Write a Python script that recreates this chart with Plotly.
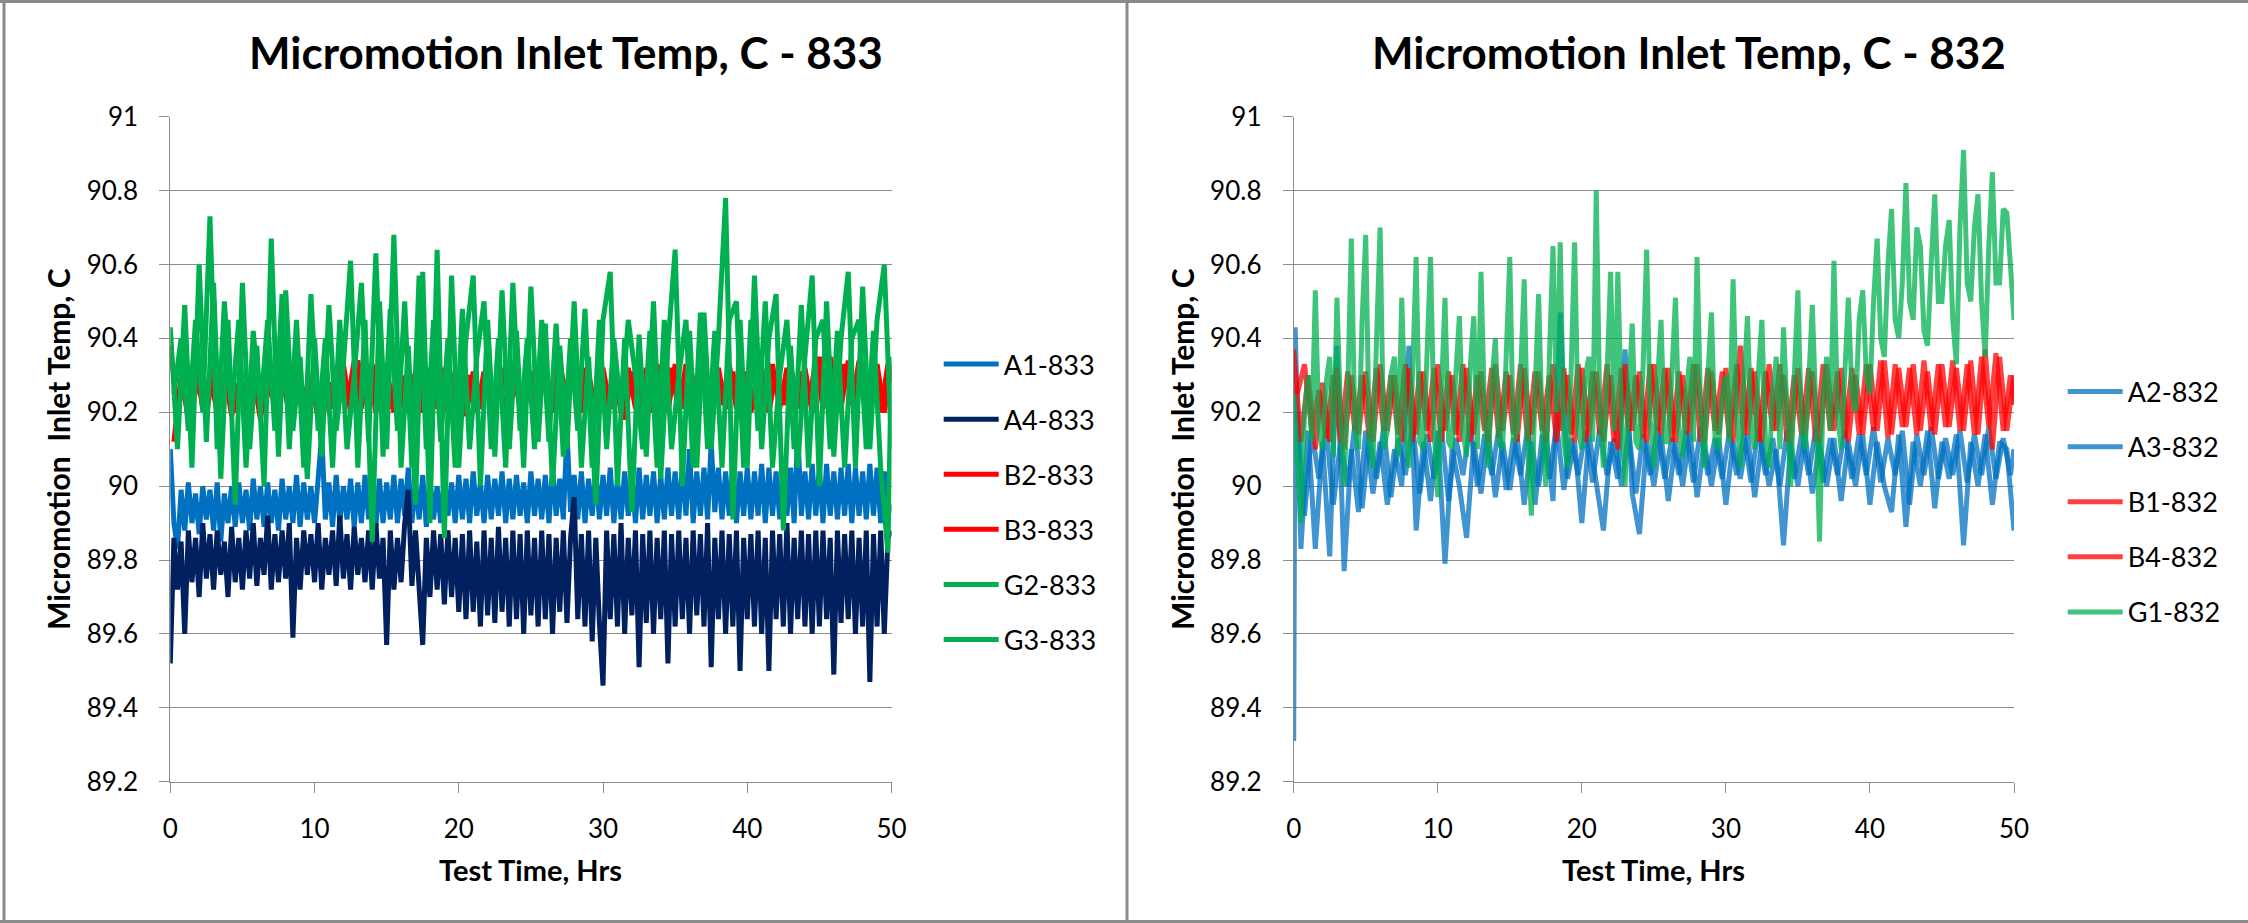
import plotly.graph_objects as go

W, H = 2248, 923

# sampling grids (hours)
time_hrs = [i * 0.5 for i in range(101)]                 # 0, 0.5, ... 50
time_q = [i * 0.5 + 0.25 for i in range(100)] + [50.0]   # 0.25, 0.75, ... 49.75, 50
time_fine = [i * 0.25 for i in range(201)]               # 0, 0.25, ... 50
time_a2_832 = [0.0, 0.1] + time_hrs[1:]

# ---------------- 833 ----------------
a1_833 = [90.10, 89.90, 89.83, 89.99, 89.88, 90.01, 89.90, 89.98, 89.87, 90.00, 89.91, 89.99, 89.88, 90.01, 89.85, 89.98, 89.90, 90.00, 89.89, 90.01,
          89.90, 89.99, 89.88, 90.02, 89.91, 90.00, 89.89, 90.01, 89.90, 89.99, 89.88, 90.02, 89.91, 90.00, 89.90, 90.03, 89.89, 90.01, 89.91, 90.00,
          89.90, 90.02, 90.14, 89.91, 90.01, 89.89, 90.03, 89.90, 90.00, 89.91, 90.02, 89.89, 90.01, 89.90, 90.03, 89.91, 90.00, 89.89, 90.02, 89.90,
          90.01, 89.91, 90.03, 89.90, 90.02, 89.92, 90.05, 89.90, 90.01, 89.91, 90.03, 89.89, 90.02, 89.91, 90.00, 89.90, 90.03, 89.92, 90.01, 89.90,
          90.03, 89.91, 90.02, 89.90, 90.04, 89.92, 90.01, 89.90, 90.03, 89.91, 90.02, 89.92, 90.04, 89.90, 90.02, 89.91, 90.03, 89.92, 90.01, 89.90,
          90.04, 89.92, 90.02, 89.91, 90.03, 89.90, 90.05, 89.92, 90.02, 89.91, 90.15, 89.93, 90.03, 89.91, 90.04, 89.90, 90.02, 89.92, 90.04, 89.91,
          90.03, 89.92, 90.05, 89.90, 90.02, 89.91, 90.04, 89.92, 90.03, 89.90, 90.05, 89.91, 90.03, 89.92, 90.04, 89.90, 90.03, 89.91, 90.05, 89.92,
          90.04, 89.91, 90.06, 89.92, 90.10, 89.90, 90.04, 89.92, 90.05, 89.91, 90.12, 89.93, 90.05, 89.91, 90.04, 89.92, 90.06, 89.90, 90.04, 89.92,
          90.05, 89.91, 90.04, 89.92, 90.06, 89.90, 90.05, 89.92, 90.04, 89.91, 90.06, 89.92, 90.05, 89.90, 90.15, 89.92, 90.04, 89.91, 90.06, 89.92,
          90.05, 89.90, 90.06, 89.92, 90.04, 89.91, 90.05, 89.92, 90.06, 89.90, 90.05, 89.92, 90.04, 89.91, 90.06, 89.92, 90.05, 89.90, 90.04, 89.92,
          89.95]
a4_833 = [89.52, 89.86, 89.72, 89.85, 89.60, 89.88, 89.74, 89.86, 89.70, 89.90, 89.75, 89.87, 89.72, 89.88, 89.76, 89.85, 89.70, 89.89, 89.74, 89.86,
          89.72, 89.88, 89.75, 89.90, 89.73, 89.86, 89.76, 89.92, 89.72, 89.87, 89.74, 89.88, 89.75, 89.90, 89.59, 89.86, 89.72, 89.88, 89.76, 89.87,
          89.74, 89.90, 89.72, 89.86, 89.76, 89.88, 89.73, 89.92, 89.75, 89.87, 89.72, 89.89, 89.76, 89.86, 89.74, 89.88, 89.72, 89.90, 89.75, 89.86,
          89.57, 89.88, 89.72, 89.86, 89.74, 89.90, 89.99, 89.73, 89.88, 89.72, 89.57, 89.86, 89.70, 89.88, 89.72, 89.87, 89.68, 89.88, 89.70, 89.86,
          89.66, 89.87, 89.64, 89.88, 89.66, 89.85, 89.62, 89.88, 89.65, 89.86, 89.63, 89.89, 89.66, 89.86, 89.62, 89.88, 89.64, 89.87, 89.60, 89.88,
          89.65, 89.86, 89.62, 89.88, 89.64, 89.87, 89.60, 89.86, 89.66, 89.88, 89.63, 89.86, 89.97, 89.64, 89.87, 89.62, 89.88, 89.58, 89.86, 89.63,
          89.46, 89.88, 89.64, 89.87, 89.62, 89.90, 89.60, 89.86, 89.65, 89.88, 89.51, 89.87, 89.63, 89.88, 89.60, 89.86, 89.64, 89.88, 89.52, 89.87,
          89.62, 89.88, 89.64, 89.86, 89.60, 89.88, 89.65, 89.87, 89.62, 89.90, 89.51, 89.86, 89.64, 89.88, 89.60, 89.87, 89.62, 89.88, 89.50, 89.86,
          89.64, 89.87, 89.62, 89.88, 89.60, 89.86, 89.50, 89.88, 89.64, 89.87, 89.62, 89.90, 89.60, 89.86, 89.64, 89.88, 89.62, 89.87, 89.60, 89.88,
          89.62, 89.88, 89.64, 89.86, 89.49, 89.88, 89.63, 89.87, 89.64, 89.88, 89.60, 89.86, 89.62, 89.88, 89.47, 89.87, 89.62, 89.88, 89.60, 89.86,
          89.88]
b2_833 = [90.38, 90.20, 90.31, 90.22, 90.29, 90.19, 90.32, 90.21, 90.30, 90.20,
          90.28, 90.17, 90.32, 90.20, 90.30, 90.22, 90.31, 90.19, 90.29, 90.21,
          90.30, 90.17, 90.28, 90.22, 90.33, 90.20, 90.34, 90.23, 90.33, 90.21,
          90.32, 90.20, 90.30, 90.22, 90.31, 90.20, 90.30, 90.21, 90.32, 90.20,
          90.30, 90.19, 90.31, 90.21, 90.29, 90.20, 90.32, 90.22, 90.30, 90.19,
          90.31, 90.21, 90.33, 90.20, 90.34, 90.22, 90.33, 90.20, 90.31, 90.19,
          90.32, 90.21, 90.30, 90.18, 90.31, 90.20, 90.32, 90.21, 90.30, 90.20,
          90.33, 90.21, 90.34, 90.22, 90.33, 90.20, 90.32, 90.21, 90.31, 90.20,
          90.30, 90.21, 90.32, 90.20, 90.31, 90.22, 90.33, 90.21, 90.32, 90.20,
          90.35, 90.22, 90.33, 90.21, 90.34, 90.20, 90.32, 90.21, 90.33, 90.20,
          90.33]
b3_833 = [90.12, 90.30, 90.18, 90.33, 90.21, 90.30, 90.20, 90.31, 90.19, 90.28,
          90.20, 90.30, 90.18, 90.31, 90.21, 90.29, 90.20, 90.32, 90.22, 90.30,
          90.18, 90.31, 90.21, 90.33, 90.22, 90.34, 90.21, 90.33, 90.20, 90.32,
          90.21, 90.31, 90.20, 90.30, 90.22, 90.32, 90.21, 90.30, 90.20, 90.31,
          90.21, 90.30, 90.20, 90.31, 90.22, 90.30, 90.19, 90.32, 90.21, 90.31,
          90.20, 90.32, 90.21, 90.34, 90.20, 90.33, 90.22, 90.32, 90.20, 90.30,
          90.21, 90.31, 90.20, 90.32, 90.21, 90.30, 90.20, 90.33, 90.21, 90.32,
          90.20, 90.33, 90.21, 90.34, 90.20, 90.32, 90.22, 90.33, 90.21, 90.31,
          90.20, 90.31, 90.22, 90.33, 90.21, 90.32, 90.20, 90.31, 90.22, 90.34,
          90.21, 90.35, 90.20, 90.33, 90.22, 90.34, 90.21, 90.32, 90.20, 90.33,
          90.28]
g2_833 = [90.43, 90.10, 90.49, 90.05, 90.60, 90.12, 90.55, 90.02, 90.45, 89.95,
          90.55, 90.10, 90.38, 90.00, 90.67, 90.08, 90.53, 90.15, 90.35, 90.02,
          90.40, 90.08, 90.49, 90.15, 90.33, 90.61, 90.05, 90.45, 89.85, 90.50,
          90.10, 90.68, 90.05, 90.38, 89.95, 90.58, 89.90, 90.64, 89.86, 90.57,
          90.05, 90.40, 90.57, 90.00, 90.45, 90.08, 90.53, 90.10, 90.42, 90.05,
          90.54, 90.12, 90.44, 90.00, 90.38, 90.10, 90.50, 90.05, 90.35, 89.95,
          90.45, 90.58, 90.00, 90.40, 89.93, 90.41, 90.08, 90.50, 90.02, 90.38,
          90.64, 90.00, 90.42, 90.05, 90.47, 90.10, 90.40, 90.78, 89.91, 90.45,
          90.05, 90.57, 90.10, 90.40, 90.52, 89.88, 90.38, 90.05, 90.35, 90.57,
          90.00, 90.50, 90.08, 90.40, 90.58, 90.05, 90.54, 90.10, 90.45, 90.60,
          90.10]
g3_833 = [90.25, 90.40, 90.15, 90.45, 90.20, 90.73, 90.10, 90.50, 90.20, 90.45,
          90.05, 90.42, 90.20, 90.45, 90.15, 90.52, 90.10, 90.45, 90.05, 90.52,
          90.15, 90.40, 90.05, 90.45, 90.10, 90.30, 90.55, 90.12, 90.63, 90.08,
          90.48, 90.15, 90.50, 90.05, 90.57, 90.10, 90.45, 90.12, 90.40, 90.05,
          90.48, 90.10, 90.35, 90.50, 90.10, 90.40, 90.05, 90.55, 90.15, 90.40,
          90.10, 90.45, 90.12, 90.44, 90.08, 90.40, 90.15, 90.48, 90.05, 90.45,
          90.10, 90.40, 90.20, 90.45, 90.30, 90.10, 90.42, 90.05, 90.45, 90.10,
          90.30, 90.45, 90.05, 90.47, 90.10, 90.42, 90.05, 90.45, 90.50, 90.05,
          90.45, 90.15, 90.50, 90.05, 90.30, 90.45, 90.10, 90.49, 90.05, 90.40,
          90.45, 90.10, 90.42, 90.05, 90.40, 90.45, 90.10, 90.42, 90.05, 89.82,
          90.35]

# ---------------- 832 ----------------
a2_832 = [89.31, 90.43, 89.83, 90.15, 89.83, 90.12, 89.81, 90.38, 89.77, 90.10,
          89.93, 90.15, 89.98, 90.12, 89.95, 90.10, 90.00, 90.38, 89.88, 90.12,
          89.96, 90.15, 89.79, 90.10, 90.00, 89.86, 90.12, 89.98, 90.15, 89.97,
          90.12, 89.99, 90.14, 89.95, 90.12, 90.00, 90.15, 89.96, 90.47, 90.02,
          90.12, 89.90, 90.14, 90.00, 89.88, 90.12, 90.02, 90.37, 89.98, 89.87,
          90.12, 90.00, 90.14, 89.96, 90.12, 90.00, 90.15, 89.97, 90.12, 90.00,
          90.13, 89.95, 90.12, 90.02, 90.14, 89.97, 90.12, 90.00, 90.10, 89.84,
          90.12, 90.00, 90.14, 89.98, 90.12, 90.00, 90.13, 89.96, 90.12, 90.00,
          90.14, 89.95, 90.12, 90.00, 89.93, 90.14, 89.89, 90.12, 90.00, 90.15,
          89.94, 90.12, 90.02, 90.14, 89.84, 90.12, 90.00, 90.14, 89.95, 90.12,
          90.10, 89.88]
a3_832 = [90.20, 89.92, 90.15, 90.02, 90.16, 89.95, 90.12, 90.00, 90.17, 89.94,
          90.14, 90.02, 90.16, 89.97, 90.13, 90.03, 90.17, 89.98, 90.14, 90.02,
          90.16, 89.96, 90.13, 90.03, 90.17, 90.00, 90.14, 90.03, 90.16, 89.99,
          90.13, 90.03, 90.16, 89.95, 90.14, 90.02, 90.17, 89.99, 90.13, 90.03,
          90.15, 90.01, 90.16, 90.03, 90.13, 90.00, 90.15, 89.98, 90.14, 90.03,
          90.16, 90.02, 90.13, 90.03, 90.15, 90.01, 90.16, 90.03, 90.13, 90.02,
          90.15, 90.03, 90.14, 90.01, 90.16, 90.03, 90.13, 90.00, 90.15, 90.02,
          90.14, 90.03, 90.16, 90.01, 90.13, 90.03, 90.15, 90.02, 90.14, 90.03,
          90.16, 90.01, 90.13, 90.03, 90.15, 89.95, 90.14, 90.03, 90.16, 90.02,
          90.13, 90.03, 90.15, 90.01, 90.14, 90.03, 90.16, 90.02, 90.13, 90.03,
          90.10]
b1_832 = [90.37, 90.12, 90.30, 90.10, 90.28, 90.12, 90.32, 90.10, 90.30, 90.14,
          90.31, 90.12, 90.33, 90.15, 90.30, 90.12, 90.32, 90.14, 90.31, 90.12,
          90.33, 90.15, 90.30, 90.12, 90.32, 90.14, 90.31, 90.12, 90.33, 90.15,
          90.30, 90.12, 90.32, 90.14, 90.31, 90.12, 90.33, 90.15, 90.30, 90.12,
          90.32, 90.14, 90.31, 90.12, 90.30, 90.10, 90.33, 90.15, 90.31, 90.12,
          90.33, 90.14, 90.32, 90.12, 90.30, 90.15, 90.33, 90.12, 90.31, 90.14,
          90.32, 90.12, 90.38, 90.14, 90.31, 90.12, 90.33, 90.15, 90.30, 90.12,
          90.32, 90.14, 90.31, 90.12, 90.33, 90.15, 90.32, 90.12, 90.30, 90.14,
          90.33, 90.15, 90.34, 90.14, 90.32, 90.16, 90.33, 90.15, 90.31, 90.14,
          90.33, 90.16, 90.32, 90.15, 90.34, 90.14, 90.37, 90.10, 90.35, 90.15,
          90.30]
b4_832 = [90.25, 90.33, 90.15, 90.26, 90.13, 90.30, 90.12, 90.31, 90.15, 90.30,
          90.13, 90.32, 90.15, 90.30, 90.14, 90.33, 90.12, 90.31, 90.15, 90.32,
          90.12, 90.31, 90.14, 90.33, 90.12, 90.30, 90.15, 90.32, 90.13, 90.31,
          90.14, 90.33, 90.12, 90.31, 90.15, 90.30, 90.12, 90.32, 90.14, 90.33,
          90.12, 90.31, 90.14, 90.33, 90.12, 90.32, 90.15, 90.30, 90.13, 90.33,
          90.15, 90.32, 90.12, 90.31, 90.14, 90.33, 90.12, 90.32, 90.15, 90.31,
          90.13, 90.33, 90.14, 90.32, 90.12, 90.31, 90.15, 90.33, 90.12, 90.30,
          90.14, 90.32, 90.12, 90.33, 90.15, 90.31, 90.13, 90.32, 90.14, 90.33,
          90.15, 90.34, 90.13, 90.33, 90.16, 90.32, 90.14, 90.34, 90.15, 90.33,
          90.16, 90.34, 90.15, 90.33, 90.14, 90.35, 90.16, 90.36, 90.15, 90.30,
          90.22]
g1_832 = [90.25, 90.10, 89.90, 90.20, 90.30, 90.12, 90.53, 90.15, 90.10, 90.28, 90.35, 90.08, 90.51, 90.20, 90.00, 90.25, 90.67, 90.15, 90.10, 90.45,
          90.68, 90.12, 90.05, 90.40, 90.70, 90.10, 90.15, 90.30, 90.35, 90.08, 90.51, 90.18, 90.05, 90.30, 90.62, 90.12, 90.10, 90.35, 90.62, 90.15,
          89.97, 90.25, 90.51, 90.12, 90.10, 90.30, 90.46, 90.15, 90.08, 90.32, 90.46, 90.10, 90.58, 90.20, 90.05, 90.28, 90.40, 90.12, 90.10, 90.35,
          90.62, 90.12, 90.15, 90.30, 90.56, 90.10, 89.92, 90.25, 90.52, 90.15, 90.00, 90.35, 90.65, 90.20, 90.66, 90.12, 90.05, 90.30, 90.66, 90.15,
          90.10, 90.30, 90.35, 90.12, 90.80, 90.20, 90.05, 90.30, 90.58, 90.15, 90.58, 90.20, 90.00, 90.25, 90.44, 90.12, 90.10, 90.32, 90.64, 90.18,
          90.05, 90.28, 90.45, 90.12, 90.12, 90.30, 90.51, 90.15, 90.08, 90.25, 90.35, 90.12, 90.62, 90.20, 90.05, 90.30, 90.47, 90.12, 90.10, 90.25,
          90.30, 90.12, 90.56, 90.20, 90.05, 90.28, 90.46, 90.15, 90.10, 90.30, 90.45, 90.12, 90.05, 90.25, 90.35, 90.10, 90.43, 90.20, 90.00, 90.30,
          90.53, 90.15, 90.10, 90.28, 90.49, 90.20, 89.85, 90.25, 90.35, 90.15, 90.61, 90.20, 90.10, 90.30, 90.51, 90.25, 90.20, 90.45, 90.53, 90.30,
          90.25, 90.50, 90.67, 90.40, 90.35, 90.60, 90.75, 90.45, 90.40, 90.55, 90.82, 90.50, 90.45, 90.70, 90.65, 90.42, 90.38, 90.60, 90.79, 90.50,
          90.50, 90.65, 90.72, 90.45, 90.33, 90.70, 90.91, 90.55, 90.50, 90.70, 90.79, 90.50, 90.35, 90.65, 90.85, 90.55, 90.55, 90.75, 90.74, 90.60,
          90.45]

x_tick_vals = [0, 10, 20, 30, 40, 50]
x_tick_text = ["0", "10", "20", "30", "40", "50"]
y_tick_vals = [89.2, 89.4, 89.6, 89.8, 90.0, 90.2, 90.4, 90.6, 90.8, 91.0]
y_tick_text = ["89.2", "89.4", "89.6", "89.8", "90", "90.2", "90.4", "90.6", "90.8", "91"]

titles = ["Micromotion Inlet Temp, C - 833", "Micromotion Inlet Temp, C - 832"]
x_title = "Test Time, Hrs"
y_title = "Micromotion  Inlet Temp, C"

left_series = [
    ("A1-833", time_fine, a1_833, "#0070C0"),
    ("A4-833", time_fine, a4_833, "#002060"),
    ("B2-833", time_hrs, b2_833, "#FF0000"),
    ("B3-833", time_q, b3_833, "#FF0000"),
    ("G2-833", time_hrs, g2_833, "#00B050"),
    ("G3-833", time_q, g3_833, "#00B050"),
]
right_series = [
    ("A2-832", time_a2_832, a2_832, "rgba(0,112,192,0.75)"),
    ("A3-832", time_q, a3_832, "rgba(0,112,192,0.75)"),
    ("B1-832", time_hrs, b1_832, "rgba(255,0,0,0.75)"),
    ("B4-832", time_q, b4_832, "rgba(255,0,0,0.75)"),
    ("G1-832", time_fine, g1_832, "rgba(0,176,80,0.75)"),
]

FONT = "Lato"
LW = 5

fig = go.Figure()
for name, xs, ys, col in left_series:
    fig.add_trace(go.Scatter(x=xs, y=ys, name=name, mode="lines",
                             line=dict(color=col, width=LW),
                             xaxis="x", yaxis="y", legend="legend",
                             legendgroup=name, showlegend=True))
for name, xs, ys, col in right_series:
    fig.add_trace(go.Scatter(x=xs, y=ys, name=name, mode="lines",
                             line=dict(color=col, width=LW),
                             xaxis="x2", yaxis="y2", legend="legend2",
                             legendgroup=name, showlegend=True))


def px_x(p):
    return p / W


def px_y(p):
    return 1 - p / H


ydom = [px_y(781.7), px_y(116.7)]
grid = "#8c8c8c"

xcommon = dict(range=[0, 50], tickvals=x_tick_vals, ticktext=x_tick_text,
               ticks="outside", ticklen=10, tickcolor=grid, tickwidth=1,
               showline=True, linecolor=grid, linewidth=1, showgrid=False,
               zeroline=False, tickfont=dict(family=FONT, size=26, color="black"),
               ticklabelstandoff=14, automargin=False)
ycommon = dict(range=[89.2, 91.0], tickvals=y_tick_vals, ticktext=y_tick_text,
               ticks="outside", ticklen=10, tickcolor=grid, tickwidth=1,
               showline=True, linecolor=grid, linewidth=1, showgrid=True,
               gridcolor=grid, gridwidth=1, zeroline=False,
               tickfont=dict(family=FONT, size=26, color="black"),
               ticklabelstandoff=16, domain=ydom, automargin=False)

legcommon = dict(xanchor="left", yanchor="middle", y=px_y(502),
                 font=dict(family=FONT, size=27, color="black"),
                 itemwidth=55, tracegroupgap=17, bgcolor="rgba(0,0,0,0)",
                 traceorder="grouped", borderwidth=0)

fig.update_layout(
    width=W, height=H,
    margin=dict(l=0, r=0, t=0, b=0, pad=0, autoexpand=False),
    paper_bgcolor="white", plot_bgcolor="white",
    showlegend=True,
    xaxis=dict(domain=[px_x(170.3), px_x(891.5)], anchor="y", **xcommon),
    yaxis=dict(anchor="x", **ycommon),
    xaxis2=dict(domain=[px_x(1293.7), px_x(2014.0)], anchor="y2", **xcommon),
    yaxis2=dict(anchor="x2", **ycommon),
    legend=dict(x=px_x(938.7), **legcommon),
    legend2=dict(x=px_x(2062.7), **legcommon),
)

annotations = []
for cx, t in [(566.5, titles[0]), (1689.0, titles[1])]:
    annotations.append(dict(x=px_x(cx), y=px_y(52), xref="paper", yref="paper",
                            text=t, showarrow=False, xanchor="center", yanchor="middle",
                            font=dict(family=FONT, size=44, color="black", weight="bold")))
for cx in [530.9, 1653.9]:
    annotations.append(dict(x=px_x(cx), y=px_y(869), xref="paper", yref="paper",
                            text=x_title, showarrow=False, xanchor="center", yanchor="middle",
                            font=dict(family=FONT, size=29, color="black", weight="bold")))
for cx in [58.0, 1182.0]:
    annotations.append(dict(x=px_x(cx), y=px_y(449), xref="paper", yref="paper",
                            text=y_title, showarrow=False, textangle=-90,
                            xanchor="center", yanchor="middle",
                            font=dict(family=FONT, size=30, color="black", weight="bold")))
fig.update_layout(annotations=annotations)

border = "#8a8a8a"
shapes = [
    dict(type="line", xref="paper", yref="paper", x0=px_x(4), x1=px_x(4), y0=0, y1=1,
         line=dict(color=border, width=3)),
    dict(type="line", xref="paper", yref="paper", x0=0, x1=1, y0=px_y(1.5), y1=px_y(1.5),
         line=dict(color=border, width=3)),
    dict(type="line", xref="paper", yref="paper", x0=0, x1=1, y0=px_y(921.5), y1=px_y(921.5),
         line=dict(color=border, width=3)),
    dict(type="line", xref="paper", yref="paper", x0=px_x(1127), x1=px_x(1127), y0=0, y1=1,
         line=dict(color=border, width=3)),
]
fig.update_layout(shapes=shapes)

post = ("document.documentElement.style.margin='0';document.body.style.margin='0';"
        "document.body.style.padding='0';document.documentElement.style.overflow='hidden';"
        "document.body.style.overflow='hidden';")
fig.write_html("out.html", config={"displayModeBar": False}, post_script=post)
